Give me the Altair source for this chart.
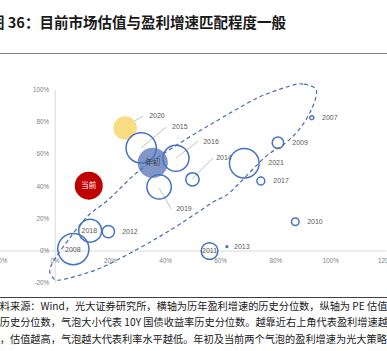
import altair as alt
import pandas as pd

# ---- data ----
years = ["2007", "2008", "2009", "2010", "2011", "2012", "2013", "2014",
         "2015", "2016", "2017", "2018", "2019", "2021"]
growth_pct = [93.1, 6.6, 80.8, 87.1, 56.0, 19.3, 62.3, 49.8, 31.2, 43.8, 74.6, 12.7, 37.7, 68.6]
pe_pct = [82.8, 1.2, 67.3, 18.2, 0.0, 12.0, 2.7, 44.5, 64.0, 57.6, 43.5, 12.6, 39.8, 54.5]
rate_pct = [1.6, 100, 13.4, 5.8, 28.8, 15.6, 0.3, 18.4, 93.8, 70.2, 6.4, 54.1, 61.0, 90.6]

hl_names = ["2020", "年初", "当前"]
hl_growth = [25.4, 35.4, 12.2]
hl_pe = [76.4, 54.8, 40.6]
hl_rate = [57.1, 93.3, 80.6]

side_labels = ["2020", "2015", "2016", "2014", "2019", "2021", "2017", "2009", "2007", "2010", "2013", "2012"]
side_x = [34.1, 42.4, 53.7, 58.4, 43.9, 77.3, 79.1, 86.0, 96.8, 91.4, 64.9, 24.3]
side_y = [83.9, 77.0, 67.7, 57.8, 26.1, 54.7, 43.5, 67.1, 82.6, 18.0, 2.5, 11.8]

in_labels = ["2018", "2008", "2011"]
in_x = [12.4, 6.4, 56.0]
in_y = [12.6, 0.6, 0.0]

lead_x1 = [25.4, 31.2, 43.9, 49.7, 37.7]
lead_y1 = [77.0, 64.0, 57.8, 44.7, 39.1]
lead_x2 = [31.9, 40.3, 51.9, 57.3, 42.1]
lead_y2 = [83.9, 77.0, 68.3, 57.8, 26.1]

ell_x = [94.7, 90.0, 85.2, 73.3, 57.3, 45.3, 30.8, 19.2, 11.5, 2.9, -1.8, -0.7, 1.8, 10.2,
         18.9, 34.5, 45.3, 57.3, 63.5, 76.2, 82.7, 88.9, 93.2]
ell_y = [100.0, 103.7, 102.5, 95.0, 79.5, 67.1, 50.3, 31.7, 21.1, 2.5, -10.6, -16.8, -18.0, -14.3,
         -8.7, 5.6, 16.8, 30.4, 36.6, 58.4, 65.8, 76.4, 88.8]

x_ticks = [-20, 0, 20, 40, 60, 80, 100, 120]
y_ticks = [-20, 0, 20, 40, 60, 80, 100]

title_text = "图 36：目前市场估值与盈利增速匹配程度一般"
source_lines = [
    "资料来源：Wind，光大证券研究所，横轴为历年盈利增速的历史分位数，纵轴为 PE 估值的",
    "的历史分位数，气泡大小代表 10Y 国债收益率历史分位数。越靠近右上角代表盈利增速越高",
    "高，估值越高，气泡越大代表利率水平越低。年初及当前两个气泡的盈利增速为光大策略预测",
]

# ---- scales ----
W, H = 387, 351
xs = alt.Scale(domain=[-20, 120], range=[0, 386])
ys = alt.Scale(domain=[-20, 100], range=[283.2, 90])
ss = alt.Scale(domain=[0, 100], range=[0, 973])
X = lambda f: alt.X(f, type="quantitative", scale=xs, axis=None)
Y = lambda f: alt.Y(f, type="quantitative", scale=ys, axis=None)

pts = pd.DataFrame({"year": years, "g": growth_pct, "pe": pe_pct, "r": rate_pct})
hl = pd.DataFrame({"name": hl_names, "g": hl_growth, "pe": hl_pe, "r": hl_rate})
side = pd.DataFrame({"t": side_labels, "x": side_x, "y": side_y})
inside = pd.DataFrame({"t": in_labels, "x": in_x, "y": in_y})
lead = pd.DataFrame({"x": lead_x1, "y": lead_y1, "x2": lead_x2, "y2": lead_y2})
ell = pd.DataFrame({"x": ell_x, "y": ell_y, "o": list(range(len(ell_x)))})
xt = pd.DataFrame({"v": x_ticks, "t": [f"{v}%" for v in x_ticks], "z": [0] * len(x_ticks)})
yt = pd.DataFrame({"v": y_ticks, "t": [f"{v}%" for v in y_ticks], "z": [0] * len(y_ticks)})
axes = pd.DataFrame({"x": [0, -20], "y": [-20, 0], "x2": [0, 120], "y2": [100, 0]})

axis_lines = alt.Chart(axes).mark_rule(color="#D9D9D9", strokeWidth=1).encode(
    x=X("x"), y=Y("y"), x2="x2", y2="y2")

ytl = alt.Chart(yt).mark_text(align="right", baseline="middle", dx=-6, fontSize=6.3,
                              font="Liberation Sans", color="#7F7F7F").encode(
    x=X("z"), y=Y("v"), text="t")
xtl = alt.Chart(xt).mark_text(align="center", baseline="middle", dy=10, fontSize=6.3,
                              font="Liberation Sans", color="#7F7F7F").encode(
    x=X("v"), y=Y("z"), text="t")

ellipse = alt.Chart(ell).mark_line(interpolate="cardinal-closed", color="#4A6BAE",
                                    strokeWidth=1.2, strokeDash=[4, 3]).encode(
    x=X("x"), y=Y("y"), order="o:Q")

leaders = alt.Chart(lead).mark_rule(color="#A6A6A6", strokeWidth=0.7).encode(
    x=X("x"), y=Y("y"), x2="x2", y2="y2")

filled = alt.Chart(hl).mark_circle(opacity=1).encode(
    x=X("g"), y=Y("pe"),
    size=alt.Size("r:Q", scale=ss, legend=None),
    color=alt.Color("name:N", scale=alt.Scale(domain=hl_names,
                                                range=["#F9DC84", "#8196C6", "#C00000"]),
                    legend=None))

hollow = alt.Chart(pts).mark_point(shape="circle", filled=False, color="#4472C4",
                                   strokeWidth=1.5, opacity=1).encode(
    x=X("g"), y=Y("pe"), size=alt.Size("r:Q", scale=ss, legend=None))

side_txt = alt.Chart(side).mark_text(align="left", baseline="middle", fontSize=7,
                                     font="Liberation Sans", color="#595959").encode(
    x=X("x"), y=Y("y"), text="t")
in_txt = alt.Chart(inside).mark_text(align="center", baseline="middle", fontSize=7,
                                     font="Liberation Sans", color="#595959").encode(
    x=X("x"), y=Y("y"), text="t")

hl_lab = hl.iloc[1:].copy()
hl_txt = alt.Chart(hl_lab).mark_text(align="center", baseline="middle", fontSize=7.5,
                                     font="Noto Sans CJK SC").encode(
    x=X("g"), y=Y("pe"), text="name",
    color=alt.Color("name:N", scale=alt.Scale(domain=["年初", "当前"],
                                                range=["#404040", "#FFFFFF"]), legend=None))

one = pd.DataFrame({"a": [0]})
title = alt.Chart(one).mark_text(text=title_text, align="left", baseline="middle",
                                 x=-10, y=23.5, fontSize=14.5, fontWeight="bold",
                                 font="Noto Sans CJK SC", color="#1A1A1A")
top_rule = alt.Chart(one).mark_rule(color="#7F7F7F", strokeWidth=1).encode(
    x=alt.value(0), x2=alt.value(W), y=alt.value(53.5))
bot_rule = alt.Chart(one).mark_rule(color="#404040", strokeWidth=1).encode(
    x=alt.value(0), x2=alt.value(W), y=alt.value(297.5))
source = alt.Chart(one).mark_text(text=source_lines, align="left", baseline="middle",
                                  x=-10.4, y=306.5, lineHeight=16.8, fontSize=10.2,
                                  font="Noto Sans CJK SC", color="#1A1A1A")

chart = alt.layer(axis_lines, ytl, xtl, leaders, filled, hollow, ellipse,
                  side_txt, in_txt, hl_txt, title, top_rule, bot_rule, source).properties(
    width=W, height=H, padding=0, autosize=alt.AutoSizeParams(type="none"),
    background="white"
).configure_view(stroke=None).resolve_scale(color="independent")

chart.save("out.html", embed_options={"renderer": "svg", "actions": False})
